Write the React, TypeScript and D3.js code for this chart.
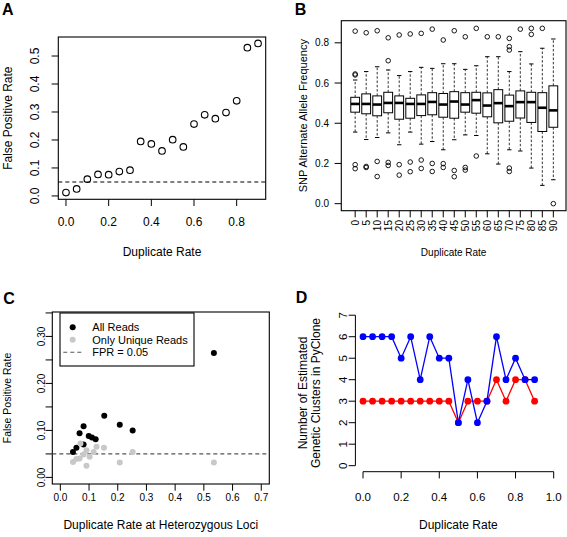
import React from 'react';
import * as d3 from 'd3';

const FONT = "'Liberation Sans', Arial, Helvetica, sans-serif";

// ---------- Panel A ----------
const dupRateA = [0, 0.05, 0.1, 0.15, 0.2, 0.25, 0.3, 0.35, 0.4, 0.45, 0.5, 0.55, 0.6, 0.65, 0.7, 0.75, 0.8, 0.85, 0.9];
const fprA = [0.012, 0.025, 0.06, 0.077, 0.076, 0.087, 0.092, 0.195, 0.186, 0.161, 0.201, 0.175, 0.257, 0.29, 0.276, 0.298, 0.34, 0.53, 0.545];
const ticksAX = [0, 0.2, 0.4, 0.6, 0.8];
const ticksAY = [0, 0.1, 0.2, 0.3, 0.4, 0.5];
const fprThreshold = 0.05;

// ---------- Panel B ----------
const categoriesB = ['0', '5', '10', '15', '20', '25', '30', '35', '40', '45', '50', '55', '60', '65', '70', '75', '80', '85', '90'];
const whiskerLowB = [0.356, 0.319, 0.329, 0.352, 0.293, 0.356, 0.296, 0.309, 0.268, 0.318, 0.342, 0.339, 0.248, 0.197, 0.268, 0.262, 0.177, 0.091, 0.119];
const q1B = [0.455, 0.447, 0.437, 0.452, 0.42, 0.425, 0.438, 0.442, 0.43, 0.425, 0.455, 0.45, 0.432, 0.402, 0.41, 0.426, 0.404, 0.359, 0.38];
const medianB = [0.496, 0.496, 0.493, 0.501, 0.501, 0.496, 0.496, 0.506, 0.493, 0.508, 0.493, 0.515, 0.488, 0.5, 0.485, 0.505, 0.505, 0.477, 0.464];
const q3B = [0.529, 0.546, 0.536, 0.554, 0.536, 0.524, 0.541, 0.552, 0.548, 0.557, 0.552, 0.554, 0.551, 0.567, 0.54, 0.561, 0.554, 0.552, 0.586];
const whiskerHighB = [0.615, 0.657, 0.681, 0.665, 0.637, 0.657, 0.678, 0.673, 0.696, 0.696, 0.668, 0.686, 0.731, 0.731, 0.657, 0.756, 0.695, 0.773, 0.819];
const outliersB = [
  [0.858, 0.64, 0.645, 0.194, 0.174],
  [0.85, 0.185, 0.18],
  [0.86, 0.21, 0.135],
  [0.825, 0.711, 0.205, 0.19],
  [0.839, 0.194, 0.142],
  [0.844, 0.207, 0.159],
  [0.847, 0.217, 0.175],
  [0.868, 0.2, 0.16],
  [0.814, 0.199, 0.18],
  [0.86, 0.165, 0.134],
  [0.83, 0.18, 0.167],
  [0.872, 0.237],
  [0.83],
  [0.83],
  [0.822, 0.781, 0.764, 0.177, 0.16],
  [0.868],
  [0.872, 0.842],
  [0.872],
  [0.0],
];
const ticksBY = [0, 0.2, 0.4, 0.6, 0.8];

// ---------- Panel C ----------
const allReadsX = [0.044, 0.056, 0.067, 0.081, 0.081, 0.099, 0.11, 0.123, 0.153, 0.207, 0.252, 0.535];
const allReadsFpr = [0.054, 0.063, 0.094, 0.109, 0.07, 0.088, 0.085, 0.081, 0.131, 0.112, 0.1, 0.265];
const uniqueX = [0.044, 0.056, 0.067, 0.07, 0.081, 0.091, 0.091, 0.102, 0.116, 0.126, 0.152, 0.207, 0.252, 0.535];
const uniqueFpr = [0.033, 0.039, 0.04, 0.072, 0.049, 0.058, 0.025, 0.044, 0.054, 0.065, 0.063, 0.032, 0.054, 0.032];
const ticksCX = [0, 0.1, 0.2, 0.3, 0.4, 0.5, 0.6, 0.7];
const ticksCY = [0, 0.05, 0.1, 0.15, 0.2, 0.25, 0.3, 0.35];
const labeledCY = [0, 0.1, 0.2, 0.3];
const legendC = ['All Reads', 'Only Unique Reads', 'FPR = 0.05'];

// ---------- Panel D ----------
const dupRateD = [0, 0.05, 0.1, 0.15, 0.2, 0.25, 0.3, 0.35, 0.4, 0.45, 0.5, 0.55, 0.6, 0.65, 0.7, 0.75, 0.8, 0.85, 0.9];
const clustersBlue = [6, 6, 6, 6, 5, 6, 4, 6, 5, 5, 2, 4, 2, 3, 6, 4, 5, 4, 4];
const clustersRed = [3, 3, 3, 3, 3, 3, 3, 3, 3, 3, 2, 3, 3, 3, 4, 3, 4, 4, 3];
const ticksDX = [0, 0.2, 0.4, 0.6, 0.8, 1.0];
const ticksDY = [0, 1, 2, 3, 4, 5, 6, 7];

const PanelLetter = ({ x, y, t }: { x: number; y: number; t: string }) => (
  <text x={x} y={y} fontFamily={FONT} fontWeight="bold" fontSize={16}>{t}</text>
);

function PanelA() {
  const x = d3.scaleLinear().domain([-0.036, 0.936]).range([58.3, 265.7]);
  const y = d3.scaleLinear().domain([-0.012, 0.568]).range([199.3, 37]);
  const [x0, x1] = x.range();
  const [y0, y1] = y.range();
  return (
    <g>
      <PanelLetter x={2} y={15} t="A" />
      <rect x={x0} y={y1} width={x1 - x0} height={y0 - y1} fill="none" stroke="#000" strokeWidth={1.1} />
      <line x1={x0} x2={x1} y1={y(fprThreshold)} y2={y(fprThreshold)} stroke="#000" strokeWidth={1.1} strokeDasharray="4,3" />
      {dupRateA.map((d, i) => (
        <circle key={i} cx={x(d)} cy={y(fprA[i])} r={3.3} fill="none" stroke="#000" strokeWidth={1.1} />
      ))}
      {ticksAX.map((t) => (
        <g key={t}>
          <line x1={x(t)} x2={x(t)} y1={y0} y2={y0 + 6.7} stroke="#000" />
          <text x={x(t)} y={221.7} textAnchor="middle" dominantBaseline="central" fontFamily={FONT} fontSize={12}>{d3.format('.1f')(t)}</text>
        </g>
      ))}
      {ticksAY.map((t) => (
        <g key={t}>
          <line x1={x0 - 6.7} x2={x0} y1={y(t)} y2={y(t)} stroke="#000" />
          <text transform={`translate(35,${y(t)}) rotate(-90)`} textAnchor="middle" dominantBaseline="central" fontFamily={FONT} fontSize={12}>{d3.format('.1f')(t)}</text>
        </g>
      ))}
      <text x={(x0 + x1) / 2} y={252.3} textAnchor="middle" dominantBaseline="central" fontFamily={FONT} fontSize={12}>Duplicate Rate</text>
      <text transform={`translate(7.5,${(y0 + y1) / 2}) rotate(-90)`} textAnchor="middle" dominantBaseline="central" fontFamily={FONT} fontSize={12}>False Positive Rate</text>
    </g>
  );
}

function PanelB() {
  const x = d3.scaleLinear().domain([-0.26, 20.26]).range([341.3, 567.2]);
  const y = d3.scaleLinear().domain([-0.035, 0.91]).range([210.7, 20.7]);
  const x0 = 341.3;
  const x1 = 566;
  const [y0, y1] = y.range();
  const unit = x(1) - x(0);
  const hw = 0.4 * unit;
  const cw = 0.2 * unit;
  return (
    <g>
      <PanelLetter x={294.7} y={15} t="B" />
      {categoriesB.map((c, i) => {
        const cx = x(i + 1);
        return (
          <g key={c}>
            <line x1={cx} x2={cx} y1={y(q3B[i])} y2={y(whiskerHighB[i])} stroke="#333" strokeDasharray="2.5,1.8" />
            <line x1={cx} x2={cx} y1={y(q1B[i])} y2={y(whiskerLowB[i])} stroke="#333" strokeDasharray="2.5,1.8" />
            <line x1={cx - cw} x2={cx + cw} y1={y(whiskerHighB[i])} y2={y(whiskerHighB[i])} stroke="#000" />
            <line x1={cx - cw} x2={cx + cw} y1={y(whiskerLowB[i])} y2={y(whiskerLowB[i])} stroke="#000" />
            <rect x={cx - hw} y={y(q3B[i])} width={2 * hw} height={y(q1B[i]) - y(q3B[i])} fill="#fff" stroke="#000" strokeWidth={1} />
            <line x1={cx - hw} x2={cx + hw} y1={y(medianB[i])} y2={y(medianB[i])} stroke="#000" strokeWidth={2.6} />
            {outliersB[i].map((o, j) => (
              <circle key={j} cx={cx} cy={y(o)} r={2.3} fill="none" stroke="#000" strokeWidth={0.9} />
            ))}
            <line x1={cx} x2={cx} y1={y0} y2={y0 + 6.7} stroke="#000" />
            <text transform={`translate(${cx},220) rotate(-90)`} textAnchor="end" dominantBaseline="central" fontFamily={FONT} fontSize={10}>{c}</text>
          </g>
        );
      })}
      <rect x={x0} y={y1} width={x1 - x0} height={y0 - y1} fill="none" stroke="#000" strokeWidth={1.1} />
      {ticksBY.map((t) => (
        <g key={t}>
          <line x1={x0 - 6.7} x2={x0} y1={y(t)} y2={y(t)} stroke="#000" />
          <text x={329} y={y(t)} textAnchor="end" dominantBaseline="central" fontFamily={FONT} fontSize={10}>{d3.format('.1f')(t)}</text>
        </g>
      ))}
      <text x={(x0 + x1) / 2} y={252.3} textAnchor="middle" dominantBaseline="central" fontFamily={FONT} fontSize={10}>Duplicate Rate</text>
      <text transform={`translate(303,${(y0 + y1) / 2}) rotate(-90)`} textAnchor="middle" dominantBaseline="central" fontFamily={FONT} fontSize={11}>SNP Alternate Allele Frequency</text>
    </g>
  );
}

function PanelC() {
  const x = d3.scaleLinear().domain([-0.028, 0.728]).range([52.3, 269.3]);
  const y = d3.scaleLinear().domain([-0.014, 0.352]).range([484, 312]);
  const [x0, x1] = x.range();
  const [y0, y1] = y.range();
  const lgX = 60, lgY = 313, lgW = 134, lgH = 53;
  const rowY = [327.3, 339.7, 352.3];
  return (
    <g>
      <PanelLetter x={3.3} y={304} t="C" />
      <rect x={x0} y={y1} width={x1 - x0} height={y0 - y1} fill="none" stroke="#000" strokeWidth={1.1} />
      <line x1={x0} x2={x1} y1={y(fprThreshold)} y2={y(fprThreshold)} stroke="#555" strokeWidth={1.1} strokeDasharray="4,3" />
      {allReadsX.map((d, i) => (
        <circle key={'a' + i} cx={x(d)} cy={y(allReadsFpr[i])} r={3} fill="#000" />
      ))}
      {uniqueX.map((d, i) => (
        <circle key={'u' + i} cx={x(d)} cy={y(uniqueFpr[i])} r={3} fill="#c8c8c8" />
      ))}
      {ticksCX.map((t) => (
        <g key={t}>
          <line x1={x(t)} x2={x(t)} y1={y0} y2={y0 + 6.7} stroke="#000" />
          <text x={x(t)} y={497} textAnchor="middle" dominantBaseline="central" fontFamily={FONT} fontSize={10}>{d3.format('.1f')(t)}</text>
        </g>
      ))}
      {ticksCY.map((t) => (
        <line key={t} x1={x0 - 6.7} x2={x0} y1={y(t)} y2={y(t)} stroke="#000" />
      ))}
      {labeledCY.map((t) => (
        <text key={t} transform={`translate(41,${y(t)}) rotate(-90)`} textAnchor="middle" dominantBaseline="central" fontFamily={FONT} fontSize={10}>{d3.format('.2f')(t)}</text>
      ))}
      <rect x={lgX} y={lgY} width={lgW} height={lgH} fill="#fff" stroke="#000" strokeWidth={1.1} />
      <circle cx={72.7} cy={rowY[0]} r={3} fill="#000" />
      <circle cx={72.7} cy={rowY[1]} r={3} fill="#c8c8c8" />
      <line x1={63.3} x2={81.7} y1={rowY[2]} y2={rowY[2]} stroke="#555" strokeWidth={1.1} strokeDasharray="4,3" />
      {legendC.map((l, i) => (
        <text key={l} x={92.3} y={rowY[i]} dominantBaseline="central" fontFamily={FONT} fontSize={11}>{l}</text>
      ))}
      <text x={(x0 + x1) / 2} y={524.7} textAnchor="middle" dominantBaseline="central" fontFamily={FONT} fontSize={12}>Duplicate Rate at Heterozygous Loci</text>
      <text transform={`translate(7,${(y0 + y1) / 2}) rotate(-90)`} textAnchor="middle" dominantBaseline="central" fontFamily={FONT} fontSize={10.5}>False Positive Rate</text>
    </g>
  );
}

function PanelD() {
  const x = d3.scaleLinear().domain([-0.04, 1.04]).range([355.4, 561.3]);
  const y = d3.scaleLinear().domain([-0.28, 7.28]).range([471.7, 309.2]);
  const [x0] = x.range();
  const [y0] = y.range();
  const line = d3.line<number>().x((d, i) => x(dupRateD[i])).y((d) => y(d));
  return (
    <g>
      <PanelLetter x={295.7} y={303} t="D" />
      <line x1={x0} x2={x0} y1={y(0)} y2={y(7)} stroke="#000" />
      {ticksDY.map((t) => (
        <g key={t}>
          <line x1={x0 - 6.7} x2={x0} y1={y(t)} y2={y(t)} stroke="#000" />
          <text transform={`translate(343,${y(t)}) rotate(-90)`} textAnchor="middle" dominantBaseline="central" fontFamily={FONT} fontSize={11.5}>{t}</text>
        </g>
      ))}
      <line x1={x(0)} x2={x(1)} y1={y0} y2={y0} stroke="#000" />
      {ticksDX.map((t) => (
        <g key={t}>
          <line x1={x(t)} x2={x(t)} y1={y0} y2={y0 + 6.7} stroke="#000" />
          <text x={x(t)} y={497.3} textAnchor="middle" dominantBaseline="central" fontFamily={FONT} fontSize={11.5}>{d3.format('.1f')(t)}</text>
        </g>
      ))}
      <path d={line(clustersRed) || ''} fill="none" stroke="#ff0000" strokeWidth={1.3} />
      {clustersRed.map((v, i) => (
        <circle key={'r' + i} cx={x(dupRateD[i])} cy={y(v)} r={3.4} fill="#ff0000" />
      ))}
      <path d={line(clustersBlue) || ''} fill="none" stroke="#0000ff" strokeWidth={1.3} />
      {clustersBlue.map((v, i) => (
        <circle key={'b' + i} cx={x(dupRateD[i])} cy={y(v)} r={3.4} fill="#0000ff" />
      ))}
      <text x={(x(0) + x(1)) / 2} y={524.7} textAnchor="middle" dominantBaseline="central" fontFamily={FONT} fontSize={12}>Duplicate Rate</text>
      <text transform={`translate(303,393) rotate(-90)`} textAnchor="middle" dominantBaseline="central" fontFamily={FONT} fontSize={12}>Number of Estimated</text>
      <text transform={`translate(316.3,393) rotate(-90)`} textAnchor="middle" dominantBaseline="central" fontFamily={FONT} fontSize={12}>Genetic Clusters in PyClone</text>
    </g>
  );
}

export default function App() {
  return (
    <svg
      width={567}
      height={537}
      viewBox="0 0 567 537"
      style={{ position: 'absolute', left: 0, top: 0, display: 'block', background: '#fff' }}
    >
      <rect x={0} y={0} width={567} height={537} fill="#fff" />
      <PanelA />
      <PanelB />
      <PanelC />
      <PanelD />
    </svg>
  );
}
